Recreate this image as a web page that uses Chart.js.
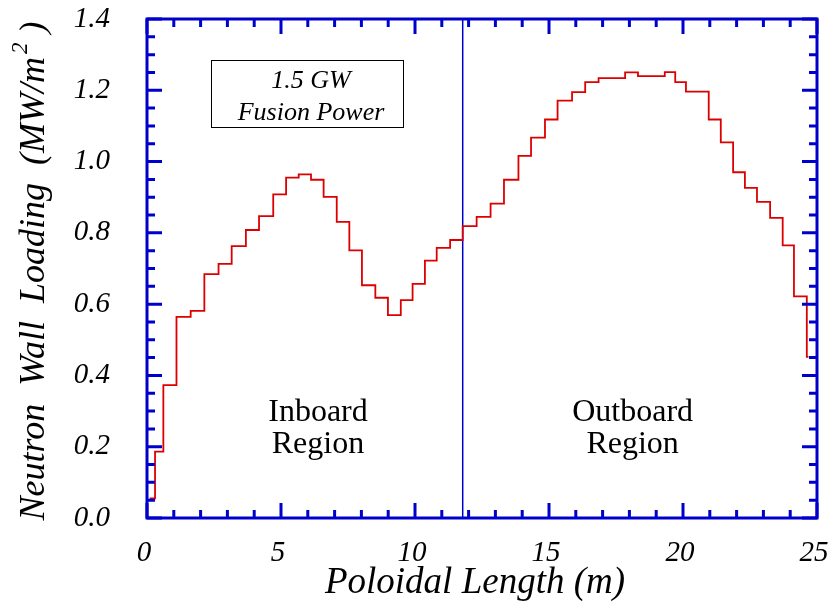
<!DOCTYPE html>
<html>
<head>
<meta charset="utf-8">
<script src="https://cdn.jsdelivr.net/npm/chart.js@4/dist/chart.umd.min.js"></script>
<style>
  html, body { margin: 0; padding: 0; background: #fff; }
  #wrap { width: 828px; height: 608px; }
</style>
</head>
<body>
<div id="wrap"><canvas id="wallCanvas" width="828" height="608"></canvas></div>
<script>
// bin edges along the first wall (m); one more edge than there are bins
var binEdges = [0.1, 0.3, 0.61, 1.1, 1.63, 2.14, 2.67, 3.16, 3.69, 4.18,
  4.71, 5.19, 5.66, 6.12, 6.59, 7.08, 7.55, 8.02, 8.52, 8.99,
  9.47, 9.91, 10.37, 10.81, 11.31, 11.78, 12.3, 12.82, 13.32, 13.86,
  14.33, 14.85, 15.32, 15.86, 16.35, 16.85, 17.34, 17.84, 18.32, 18.82,
  19.32, 19.71, 20.11, 20.51, 20.96, 21.41, 21.87, 22.31, 22.76, 23.25,
  23.72, 24.14, 24.62, 24.68];
// neutron wall loading per bin (MW/m^2)
var wallLoading = [0.055, 0.186, 0.373, 0.564, 0.581, 0.684, 0.713, 0.763, 0.808, 0.847,
  0.908, 0.955, 0.964, 0.949, 0.901, 0.831, 0.751, 0.653, 0.618, 0.569,
  0.611, 0.657, 0.722, 0.758, 0.780, 0.819, 0.845, 0.882, 0.949, 1.016,
  1.067, 1.118, 1.171, 1.195, 1.223, 1.234, 1.234, 1.250, 1.240, 1.240,
  1.251, 1.223, 1.196, 1.196, 1.118, 1.054, 0.970, 0.926, 0.887, 0.842,
  0.765, 0.622, 0.452];
// inboard / outboard boundary
var dividerX = 11.78;
var xTickLabels = [0, 5, 10, 15, 20, 25];
var yTickLabels = ['0.0', '0.2', '0.4', '0.6', '0.8', '1.0', '1.2', '1.4'];

var axisBlue = '#0000cc';
var lineRed = '#dd0000';
var serif = '"Liberation Serif", "Times New Roman", serif';

// each bin value holds from its left edge to the next edge
var stepPoints = [];
for (var i = 0; i < binEdges.length; i++) {
  stepPoints.push({x: binEdges[i], y: wallLoading[Math.min(i, wallLoading.length - 1)]});
}

// box frame, inward ticks on all four sides, titles and region notes
var decorations = {
  id: 'decorations',
  afterDraw: function(chart) {
    var ctx = chart.ctx, a = chart.chartArea;
    var sx = chart.scales.x, sy = chart.scales.y;
    ctx.save();
    ctx.strokeStyle = axisBlue;
    ctx.lineWidth = 3;
    ctx.strokeRect(a.left, a.top, a.right - a.left, a.bottom - a.top);

    ctx.beginPath();
    var v, p, len;
    for (v = 0; v <= 25; v++) {
      p = sx.getPixelForValue(v);
      len = v % 5 === 0 ? 15 : 8;
      ctx.moveTo(p, a.bottom); ctx.lineTo(p, a.bottom - len);
      ctx.moveTo(p, a.top); ctx.lineTo(p, a.top + len);
    }
    for (v = 0; v <= 28; v++) {
      p = sy.getPixelForValue(v * 0.05);
      len = v % 4 === 0 ? 15 : 8;
      ctx.moveTo(a.left, p); ctx.lineTo(a.left + len, p);
      ctx.moveTo(a.right, p); ctx.lineTo(a.right - len, p);
    }
    ctx.stroke();

    ctx.fillStyle = '#000';
    ctx.textAlign = 'center';
    ctx.textBaseline = 'alphabetic';

    // x title
    ctx.font = 'italic 37px ' + serif;
    ctx.fillText('Poloidal Length (m)', 475, 593);

    // y title, m squared as a raised digit
    ctx.save();
    ctx.translate(44, 271);
    ctx.rotate(-Math.PI / 2);
    var main = 'Neutron  Wall  Loading  (MW/m';
    ctx.font = 'italic 36px ' + serif;
    var w1 = ctx.measureText(main).width;
    var w3 = ctx.measureText(' )').width;
    ctx.font = 'italic 23px ' + serif;
    var w2 = ctx.measureText('2').width + 3;
    var x0 = -(w1 + w2 + w3) / 2;
    ctx.textAlign = 'left';
    ctx.font = 'italic 36px ' + serif;
    ctx.fillText(main, x0, 0);
    ctx.fillText(' )', x0 + w1 + w2, 0);
    ctx.font = 'italic 23px ' + serif;
    ctx.fillText('2', x0 + w1 + 3, -17);
    ctx.restore();

    // power label box
    var bx0 = sx.getPixelForValue(2.39), bx1 = sx.getPixelForValue(9.55);
    var by0 = sy.getPixelForValue(1.286), by1 = sy.getPixelForValue(1.097);
    ctx.strokeStyle = '#000';
    ctx.lineWidth = 1;
    ctx.strokeRect(Math.round(bx0) + 0.5, Math.round(by0) + 0.5, Math.round(bx1 - bx0), Math.round(by1 - by0));
    ctx.font = 'italic 26px ' + serif;
    ctx.textAlign = 'center';
    ctx.fillText('1.5 GW', sx.getPixelForValue(6.12), sy.getPixelForValue(1.2055));
    ctx.fillText('Fusion Power', sx.getPixelForValue(6.12), sy.getPixelForValue(1.116));

    // region notes
    ctx.font = '32px ' + serif;
    ctx.fillText('Inboard', sx.getPixelForValue(6.38), sy.getPixelForValue(0.272));
    ctx.fillText('Region', sx.getPixelForValue(6.38), sy.getPixelForValue(0.182));
    ctx.fillText('Outboard', sx.getPixelForValue(18.12), sy.getPixelForValue(0.272));
    ctx.fillText('Region', sx.getPixelForValue(18.12), sy.getPixelForValue(0.182));
    ctx.restore();
  }
};

// keep tick labels from pushing the plot frame inward
function noLabelPadding(scale) {
  scale.paddingTop = 0;
  scale.paddingBottom = 0;
  scale.paddingLeft = 0;
  scale.paddingRight = 0;
}

var tickFont = {family: serif, style: 'italic', size: 29};

new Chart(document.getElementById('wallCanvas').getContext('2d'), {
  type: 'line',
  data: {
    datasets: [
      {
        data: stepPoints,
        stepped: 'before',
        borderColor: lineRed,
        borderWidth: 1.8,
        pointRadius: 0,
        fill: false
      },
      {
        data: [{x: dividerX, y: 0}, {x: dividerX, y: 1.4}],
        borderColor: axisBlue,
        borderWidth: 1.5,
        pointRadius: 0,
        fill: false
      }
    ]
  },
  options: {
    responsive: false,
    animation: false,
    layout: {autoPadding: false, padding: {top: 19, right: 11, left: 0, bottom: 0}},
    plugins: {legend: {display: false}, tooltip: {enabled: false}},
    scales: {
      x: {
        type: 'linear',
        min: 0,
        max: 25,
        afterFit: function(scale) { scale.height = 90; noLabelPadding(scale); },
        grid: {display: false, drawTicks: false},
        border: {display: false},
        ticks: {
          stepSize: 5,
          padding: 18,
          labelOffset: -3,
          color: '#000',
          font: tickFont,
          maxRotation: 0,
          autoSkip: false,
          callback: function(v) { return xTickLabels.indexOf(v) >= 0 ? String(v) : ''; }
        }
      },
      y: {
        type: 'linear',
        min: 0,
        max: 1.4,
        afterFit: function(scale) { scale.width = 147; noLabelPadding(scale); },
        grid: {display: false, drawTicks: false},
        border: {display: false},
        ticks: {
          stepSize: 0.2,
          padding: 37,
          color: '#000',
          font: tickFont,
          autoSkip: false,
          callback: function(v) { return yTickLabels[Math.round(v / 0.2)]; }
        }
      }
    }
  },
  plugins: [decorations]
});
</script>
</body>
</html>
